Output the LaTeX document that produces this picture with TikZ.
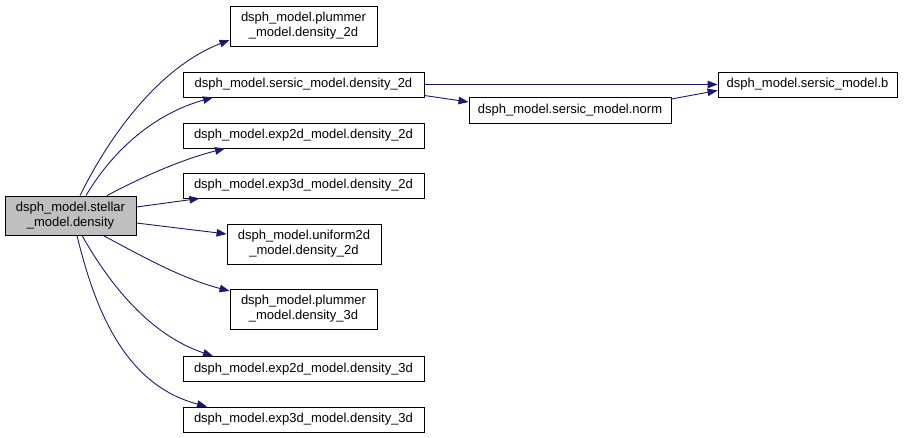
\documentclass[tikz,border=0pt]{standalone}
\usepackage{fontspec}
\setmainfont{Liberation Sans}
\usetikzlibrary{arrows.meta}
\definecolor{edgeblue}{HTML}{191970}
\definecolor{fillgray}{HTML}{BFBFBF}
\tikzset{
  fn/.style={draw=black, line width=0.9pt, fill=white, inner sep=0pt, align=center,
    font=\fontsize{13}{15}\selectfont, minimum height=25pt},
  fn2/.style={fn, minimum height=40pt},
  cur/.style={fn2, fill=fillgray},
  call/.style={draw=edgeblue, line width=0.9pt, -{Triangle[length=10pt,width=7.5pt]}},
}
\begin{document}
\begin{tikzpicture}[x=1pt,y=-1pt]
\useasboundingbox (0,0) rectangle (916,438);
\node[cur, minimum width=131pt, minimum height=39pt] (st) at (70.5,215.5) {dsph\_model.stellar\\\_model.density};
\node[fn2, minimum width=147pt] (p2) at (303.5,26) {dsph\_model.plummer\\\_model.density\_2d};
\node[fn, minimum width=241pt] (s2) at (303.5,84.5) {dsph\_model.sersic\_model.density\_2d};
\node[fn, minimum width=241pt] (e2) at (303.5,135.5) {dsph\_model.exp2d\_model.density\_2d};
\node[fn, minimum width=241pt] (e3) at (303.5,185.5) {dsph\_model.exp3d\_model.density\_2d};
\node[fn2, minimum width=154pt] (u2) at (304,244) {dsph\_model.uniform2d\\\_model.density\_2d};
\node[fn2, minimum width=147pt] (p3) at (303.5,309) {dsph\_model.plummer\\\_model.density\_3d};
\node[fn, minimum width=241pt] (e23) at (303.5,369) {dsph\_model.exp2d\_model.density\_3d};
\node[fn, minimum width=241pt] (e33) at (303.5,419.5) {dsph\_model.exp3d\_model.density\_3d};
\node[fn, minimum width=202pt, minimum height=26pt] (nm) at (570,110) {dsph\_model.sersic\_model.norm};
\node[fn, minimum width=179pt] (b) at (807.5,84.5) {dsph\_model.sersic\_model.b};

\draw[call] ([xshift=9.5pt]st.north) .. controls (115,125) and (165,65) .. ([yshift=-14pt]p2.west);
\draw[call] ([xshift=15.5pt]st.north) .. controls (110,155) and (150,115) .. ([xshift=-90.5pt]s2.south);
\draw[call] ([xshift=36.5pt]st.north) .. controls (140,178) and (180,160) .. ([xshift=-78.5pt]e2.south);
\draw[call] ([yshift=8.5pt]st.east) -- ([xshift=-104pt]e3.south);
\draw[call] ([yshift=-7.5pt]st.east) -- ([yshift=10pt]u2.west);
\draw[call] ([xshift=32.5pt]st.south) .. controls (140,255) and (180,278) .. ([yshift=18pt]p3.west);
\draw[call] ([xshift=11.5pt]st.south) .. controls (110,285) and (150,335) .. ([xshift=-90.5pt]e23.north);
\draw[call] ([xshift=6.5pt]st.south) .. controls (95,310) and (125,385) .. ([xshift=-96.5pt]e33.north);
\draw[call] (s2.east) -- (b.west);
\draw[call] ([yshift=-11pt]s2.east) -- ([yshift=8pt]nm.west);
\draw[call] ([yshift=11pt]nm.east) -- ([yshift=-6pt]b.west);
\end{tikzpicture}
\end{document}
